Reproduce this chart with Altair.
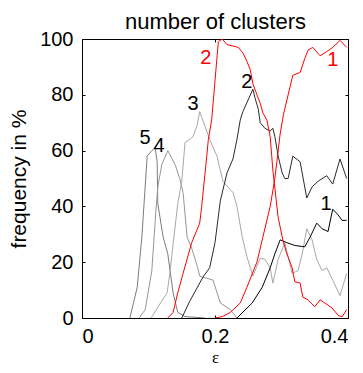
import altair as alt
import pandas as pd

# ---- data (epsilon, frequency in %) ----
eps_5 = [0.072, 0.083, 0.090, 0.098, 0.105, 0.110, 0.113, 0.114, 0.122, 0.129, 0.137, 0.144, 0.155, 0.185]
freq_5 = [0, 11, 29, 58, 60, 61, 56, 41, 29, 23, 9, 2, 0.5, 0]

eps_4 = [0.086, 0.095, 0.105, 0.111, 0.114, 0.120, 0.129, 0.140, 0.147, 0.152, 0.158, 0.165, 0.174, 0.177,
         0.197, 0.208, 0.223, 0.233]
freq_4 = [0, 3, 17, 38, 47, 55, 60, 55, 50, 45, 29, 25, 18, 15, 13.6, 5.4, 3, 0]

eps_3 = [0.104, 0.117, 0.128, 0.132, 0.144, 0.150, 0.155, 0.162, 0.167, 0.173, 0.177, 0.192, 0.203, 0.212,
         0.223, 0.227, 0.233, 0.241, 0.248, 0.257, 0.268, 0.275, 0.283, 0.287, 0.295, 0.305, 0.316, 0.325,
         0.332, 0.338, 0.346, 0.353, 0.361, 0.368, 0.377, 0.388, 0.398]
freq_3 = [0, 5, 9, 16, 41, 49, 63, 64, 65, 69, 74, 64, 58, 49, 46, 45, 40, 29, 22, 15, 21.5, 21, 18, 12.5,
          21, 27, 16, 17, 24, 32, 28, 21, 17, 18, 13.6, 8, 16]

eps_2k = [0.150, 0.162, 0.182, 0.192, 0.200, 0.208, 0.218, 0.227, 0.233, 0.238, 0.242, 0.257, 0.260, 0.265,
          0.268, 0.275, 0.283, 0.287, 0.290, 0.295, 0.301, 0.305, 0.310, 0.317, 0.328, 0.338, 0.346, 0.355,
          0.368, 0.377, 0.388, 0.398]
freq_2k = [0, 6, 14.7, 18, 27, 42, 52, 57, 64, 71, 74, 82, 79, 75, 70, 68, 67, 68, 65, 58, 52, 50, 50, 58,
           56, 43, 47, 49, 51, 48, 57, 50]

eps_1k = [0.233, 0.256, 0.271, 0.283, 0.290, 0.298, 0.308, 0.320, 0.335, 0.343, 0.353, 0.361, 0.370, 0.377,
          0.385, 0.391, 0.398]
freq_1k = [0, 5.4, 11, 18, 23, 28, 27, 26, 25.5, 29, 34, 32, 31, 39, 37, 35, 35]

eps_2r = [0.129, 0.137, 0.144, 0.152, 0.165, 0.177, 0.180, 0.188, 0.190, 0.195, 0.205, 0.211, 0.218, 0.227,
          0.235, 0.242, 0.248, 0.253, 0.257, 0.263, 0.268, 0.272, 0.278, 0.283, 0.287, 0.295, 0.302, 0.308,
          0.313, 0.316, 0.320, 0.328, 0.332, 0.340, 0.350, 0.358, 0.365, 0.376, 0.385, 0.391, 0.398]
freq_2r = [0, 2, 9, 16, 27, 34, 40, 59, 64, 71, 99, 100, 98, 97.5, 97, 95, 92, 89, 84, 80, 77, 73.5, 71, 65,
           53, 36, 28, 23, 20, 18, 13, 12.5, 7.5, 6.5, 4, 6.5, 5.4, 3.6, 1, 0.4, 3]

eps_1r = [0.200, 0.211, 0.223, 0.238, 0.248, 0.263, 0.272, 0.283, 0.290, 0.298, 0.303, 0.310, 0.317, 0.328,
          0.335, 0.340, 0.347, 0.358, 0.368, 0.377, 0.388, 0.398]
freq_1r = [0, 0.5, 2, 5.4, 11, 20, 29, 40, 50, 66, 73, 80, 87, 88, 93, 96, 97, 94, 95.5, 97, 99.5, 97]

series_ids = ["5", "4", "3", "2k", "1k", "2r", "1r"]
series_colors = ["#7c7c7c", "#969696", "#a8a8a8", "#2a2a2a", "#000000", "#ff0000", "#ff0000"]

label_text = ["5", "4", "3", "2", "1", "2", "1"]
label_eps = [0.0947, 0.116, 0.167, 0.248, 0.367, 0.186, 0.377]
label_freq = [64.5, 61.6, 76.7, 84.6, 40.9, 93.2, 92.5]
label_color = ["#000000", "#000000", "#000000", "#000000", "#000000", "#ff0000", "#ff0000"]

x_ticks = [0, 0.2, 0.4]
y_ticks = [0, 20, 40, 60, 80, 100]

# ---- build tables ----
all_eps = [eps_5, eps_4, eps_3, eps_2k, eps_1k, eps_2r, eps_1r]
all_freq = [freq_5, freq_4, freq_3, freq_2k, freq_1k, freq_2r, freq_1r]
rows = []
for sid, xs_, ys_ in zip(series_ids, all_eps, all_freq):
    for i, (a, b) in enumerate(zip(xs_, ys_)):
        rows.append({"series": sid, "i": i, "eps": a, "freq": b})
df = pd.DataFrame(rows)
lab = pd.DataFrame({"label": label_text, "eps": label_eps, "freq": label_freq, "col": label_color})

FONT = "Liberation Sans"
xs = alt.Scale(domain=[0, 0.4], nice=False, zero=False)
ys = alt.Scale(domain=[0, 100], nice=False)

lines = alt.Chart(df).mark_line(strokeWidth=1, clip=True).encode(
    x=alt.X("eps:Q", scale=xs, axis=alt.Axis(orient="bottom", values=x_ticks, format="~g", ticks=False,
                                             domain=False, grid=False, labelFontSize=20, labelFont=FONT,
                                             labelColor="black", labelPadding=8, title="ε",
                                             titleFontSize=17, titleFont="Liberation Serif",
                                             titleFontWeight="normal",
                                             titleColor="black", titlePadding=3)),
    y=alt.Y("freq:Q", scale=ys, axis=alt.Axis(orient="left", values=y_ticks, ticks=False, domain=False,
                                              grid=False, labelFontSize=20, labelFont=FONT,
                                              labelColor="black", labelPadding=9, title="frequency in %",
                                              titleFontSize=21, titleFont=FONT, titleFontWeight="normal",
                                              titleColor="black", titlePadding=10)),
    color=alt.Color("series:N", scale=alt.Scale(domain=series_ids, range=series_colors), legend=None),
    order=alt.Order("i:Q"),
)

texts = alt.Chart(lab).mark_text(fontSize=20, font=FONT).encode(
    x=alt.X("eps:Q", scale=xs, axis=alt.Axis(orient="bottom", values=x_ticks, offset=-3, tickSize=3,
                                             tickColor="black", labels=False, domain=False, grid=False,
                                             title=None)),
    y=alt.Y("freq:Q", scale=ys, axis=alt.Axis(orient="left", values=y_ticks, offset=-3, tickSize=3,
                                              tickColor="black", labels=False, domain=False, grid=False,
                                              title=None)),
    text="label:N",
    color=alt.Color("col:N", scale=None),
)

ghost = alt.Chart(lab).mark_point(opacity=0).encode(
    x=alt.X("eps:Q", scale=xs, axis=alt.Axis(orient="top", values=x_ticks, offset=-3, tickSize=3,
                                             tickColor="black", labels=False, domain=False, grid=False,
                                             title="number of clusters", titleFontSize=22, titleFont=FONT,
                                             titleFontWeight="normal", titleColor="black",
                                             titlePadding=5)),
    y=alt.Y("freq:Q", scale=ys, axis=alt.Axis(orient="right", values=y_ticks, offset=-3, tickSize=3,
                                              tickColor="black", labels=False, domain=False, grid=False,
                                              title=None)),
)

chart = alt.layer(lines, texts, ghost).resolve_axis(x="independent", y="independent").properties(
    width=266,
    height=279,
    autosize=alt.AutoSizeParams(type="none"),
    padding={"left": 74, "top": 31, "right": 6, "bottom": 47},
    background="white",
).configure_view(stroke="black", strokeWidth=1)

chart.save("out.html", embed_options={"renderer": "svg", "actions": False})
